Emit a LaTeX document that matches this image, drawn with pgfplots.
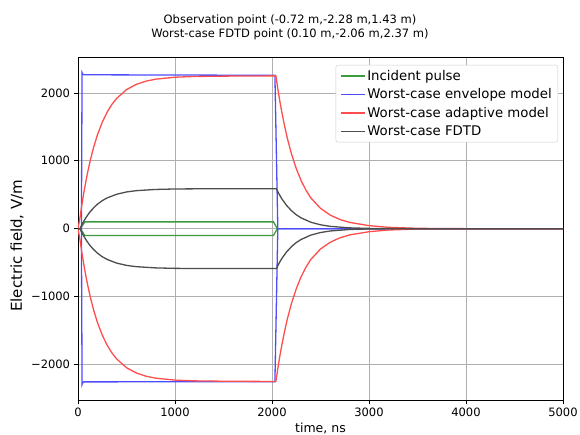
\documentclass[border=0pt]{standalone}
\usepackage{fontspec}
\setmainfont{DejaVu Sans}
\usepackage{pgfplots}
\pgfplotsset{compat=1.18}
\definecolor{gridc}{RGB}{176,176,176}
\definecolor{lgreen}{RGB}{60,155,60}
\definecolor{lblue}{RGB}{77,77,255}
\definecolor{lred}{RGB}{255,77,77}
\definecolor{lgray}{RGB}{77,77,77}
\newcommand{\fs}{\fontsize{11.5}{13.8}\selectfont}
\newcommand{\fl}{\fontsize{13.3}{16}\selectfont}
\begin{document}
\begin{tikzpicture}[font=\fs]
\begin{axis}[
  at={(0,0)}, anchor=south west, scale only axis,
  width=485pt, height=343pt,
  xmin=0, xmax=5000, ymin=-2525, ymax=2530,
  xtick={0,1000,2000,3000,4000,5000},
  xticklabels={0,1000,2000,3000,4000,5000},
  ytick={-2000,-1000,0,1000,2000},
  yticklabels={−2000,−1000,0,1000,2000},
  xtick pos=bottom, ytick pos=left,
  tick align=outside, major tick length=4.4pt,
  every tick/.style={black, line width=0.8pt},
  axis line style={black, line width=0.8pt},
  grid=major, major grid style={gridc, line width=0.8pt},
  tick label style={font=\fs},
  xlabel={time, ns}, ylabel={Electric field, V/m},
  xlabel style={font=\fontsize{12.5}{15}\selectfont, at={(axis description cs:0.5,-0.0816)}, anchor=center},
  ylabel style={font=\fontsize{15}{18}\selectfont, at={(axis description cs:-0.1258,0.45)}, anchor=center},
  legend style={at={(0.9897,0.9767)}, anchor=north east, draw=black!20,
    rounded corners=2pt, fill=white,
    font=\fl, inner xsep=4pt, inner ysep=3pt, row sep=3pt},
  legend cell align=left,
  legend image code/.code={\draw[line width=1.4pt,#1] (0pt,0pt) -- (24pt,0pt);},
]
\addlegendimage{lgreen}
\addlegendentry{Incident pulse}
\addlegendimage{lblue}
\addlegendentry{Worst-case envelope model}
\addlegendimage{lred}
\addlegendentry{Worst-case adaptive model}
\addlegendimage{lgray}
\addlegendentry{Worst-case FDTD}
% Incident pulse
\addplot[lgreen, line width=1.3pt, forget plot] coordinates {(25,0) (70,100) (2015,100) (2055,0)};
\addplot[lgreen, line width=1.3pt, forget plot] coordinates {(25,0) (70,-100) (2015,-100) (2055,0)};
% envelope model
\addplot[lblue, line width=1.3pt, forget plot] coordinates {(0,0) (35,0) (42,2300) (50,2275) (60,2268) (2030,2260) (2060,0) (5000,0)};
\addplot[lblue, line width=1.3pt, forget plot] coordinates {(0,0) (35,0) (42,-2295) (50,-2265) (60,-2258) (2030,-2255) (2060,0) (5000,0)};
% adaptive model
\addplot[lred, line width=1.3pt, forget plot] coordinates {(0,0) (20,159) (40,353) (60,529) (80,689) (100,834) (130,1027) (160,1194) (200,1381) (250,1569) (300,1716) (350,1832) (400,1922) (500,2049) (600,2126) (700,2174) (800,2203) (1000,2232) (1200,2243) (1500,2248) (2030,2252) (2040,2250) (2060,2060) (2080,1885) (2100,1725) (2130,1510) (2160,1321) (2200,1106) (2250,886) (2300,709) (2350,568) (2400,454) (2500,300) (2600,200) (2700,135) (2800,92) (3000,45) (3200,20) (3500,5) (4000,0) (5000,0)};
\addplot[lred, line width=1.3pt, forget plot] coordinates {(0,0) (20,-159) (40,-353) (60,-529) (80,-689) (100,-834) (130,-1027) (160,-1194) (200,-1381) (250,-1569) (300,-1716) (350,-1832) (400,-1922) (500,-2049) (600,-2126) (700,-2174) (800,-2203) (1000,-2232) (1200,-2243) (1500,-2248) (2030,-2252) (2040,-2250) (2060,-2060) (2080,-1885) (2100,-1725) (2130,-1510) (2160,-1321) (2200,-1106) (2250,-886) (2300,-709) (2350,-568) (2400,-454) (2500,-300) (2600,-200) (2700,-135) (2800,-92) (3000,-45) (3200,-20) (3500,-5) (4000,0) (5000,0)};
% FDTD
\addplot[lgray, line width=1.3pt, forget plot] coordinates {(0,0) (20,0) (50,86) (80,159) (120,241) (160,306) (200,360) (250,413) (300,453) (400,508) (500,541) (600,560) (800,578) (1000,585) (1300,588) (2045,588) (2070,517) (2100,443) (2150,343) (2200,266) (2250,205) (2300,159) (2400,95) (2500,57) (2600,34) (2800,12) (3000,4) (3500,0) (5000,0)};
\addplot[lgray, line width=1.3pt, forget plot] coordinates {(0,0) (20,0) (50,-86) (80,-159) (120,-241) (160,-306) (200,-360) (250,-413) (300,-453) (400,-508) (500,-541) (600,-560) (800,-578) (1000,-585) (1300,-588) (2045,-588) (2070,-517) (2100,-443) (2150,-343) (2200,-266) (2250,-205) (2300,-159) (2400,-95) (2500,-57) (2600,-34) (2800,-12) (3000,-4) (3500,0) (5000,0)};
\end{axis}
\node[align=center, font=\fs] at (212pt,372.5pt) {Observation point (-0.72 m,-2.28 m,1.43 m)\\Worst-case FDTD point (0.10 m,-2.06 m,2.37 m)};
\pgfresetboundingbox
\path[use as bounding box] (-78pt,-34pt) rectangle (502pt,400pt);
\end{tikzpicture}
\end{document}
